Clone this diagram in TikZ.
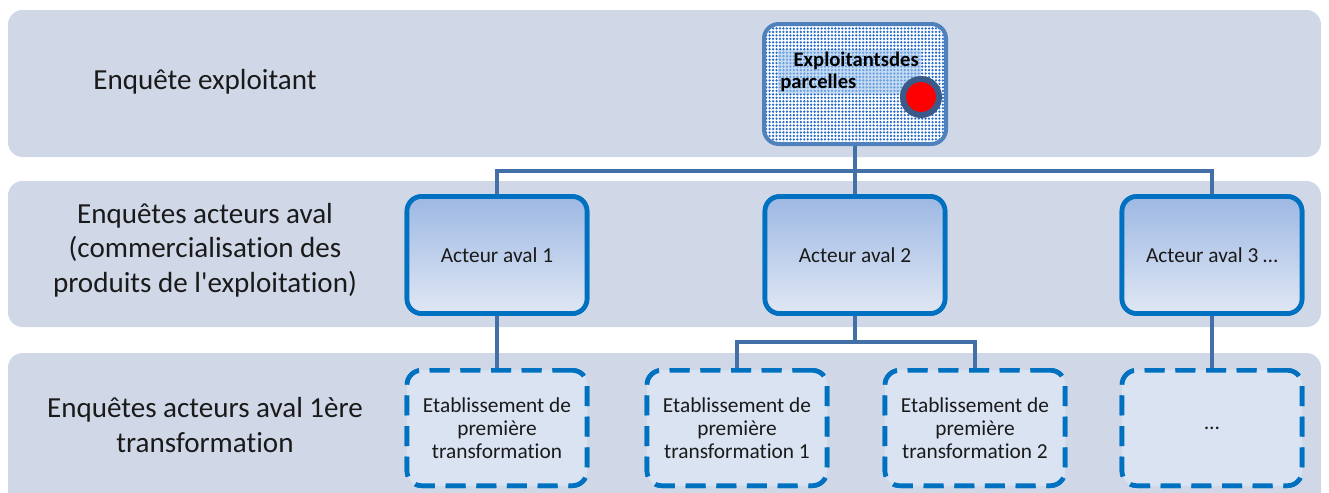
\documentclass[tikz,border=0pt]{standalone}
\usepackage{fontspec}
\setmainfont{Carlito}[Ligatures={TeX,NoCommon}]
\usetikzlibrary{patterns.meta}
\definecolor{band}{HTML}{D0D8E8}
\definecolor{boxline}{HTML}{0070C0}
\definecolor{conn}{HTML}{4470A8}
\definecolor{gradtop}{HTML}{9DB8E3}
\definecolor{gradbot}{HTML}{E0E7F4}
\definecolor{dashfill}{HTML}{DAE3F1}
\definecolor{topline}{HTML}{4F81BD}
\definecolor{dotcol}{HTML}{2468C8}
\definecolor{ringcol}{HTML}{3B5A8A}
\definecolor{glow}{HTML}{9DC3EC}
\definecolor{txt}{HTML}{1A1A1A}
\tikzset{
  bandbox/.style={fill=band, rounded corners=11pt},
  rowlabel/.style={align=center, text=txt, font=\fontsize{21.8}{26}\selectfont},
  actbox/.style={draw=boxline, line width=3.5pt, rounded corners=11pt,
    top color=gradtop, bottom color=gradbot, minimum width=135pt, minimum height=87.75pt,
    align=center, text=txt, font=\fontsize{16}{19}\selectfont},
  dashbox/.style={draw=boxline, line width=3.5pt, rounded corners=11pt, fill=dashfill,
    dash pattern=on 15pt off 8pt, minimum width=135pt, minimum height=86.5pt,
    align=center, text=txt, font=\fontsize{16}{17.5}\selectfont},
  conline/.style={draw=conn, line width=2.8pt},
}
\begin{document}
\begin{tikzpicture}[x=0.75pt,y=-0.75pt]
\useasboundingbox (0,0) rectangle (1329,493);
\begin{scope}
\clip (0,0) rectangle (1329,493);
\fill[bandbox] (8,10) rectangle (1321,157);
\fill[bandbox] (8,181) rectangle (1321,327);
\fill[bandbox] (8,353) rectangle (1321,520);
\end{scope}

\node[rowlabel] (l1) at (205,82) {Enquête exploitant};
\node[rowlabel] (l2) at (205,250) {Enquêtes acteurs aval\\(commercialisation des\\produits de l\textquotesingle exploitation)};
\node[rowlabel] (l3) at (205,425) {Enquêtes acteurs aval 1ère\\transformation};

\coordinate (ptop) at (855,84);
\coordinate (bus1) at (855,171);
\coordinate (bus2) at (855,342);

\node[actbox] (a1) at (497,255) {Acteur aval 1};
\node[actbox] (a2) at (855,255) {Acteur aval 2};
\node[actbox] (a3) at (1212,255) {Acteur aval 3 …};

\node[dashbox] (d1) at (497,428) {Etablissement de\\première\\transformation};
\node[dashbox] (d2) at (737,428) {Etablissement de\\première\\transformation 1};
\node[dashbox] (d3) at (975,428) {Etablissement de\\première\\transformation 2};
\node[dashbox] (d4) at (1212,428) {…};

\node[minimum width=136.5pt, minimum height=90pt] (top) at (ptop) {};

% connectors
\draw[conline] (top.south) -- (a2.north);
\draw[conline] (a1.north) |- (bus1) -| (a3.north);
\draw[conline] (a1.south) -- (d1.north);
\draw[conline] (a2.south) -- (bus2);
\draw[conline] (d2.north) |- (bus2) -| (d3.north);
\draw[conline] (a3.south) -- (d4.north);

% boxes over connectors
\node[draw=topline, line width=3pt, rounded corners=11pt, minimum width=136.5pt, minimum height=90pt,
  preaction={fill=white}, pattern={Dots[distance=2.6pt, radius=0.95pt]}, pattern color=dotcol] at (top) {};
\node[actbox] at (a1) {Acteur aval 1};
\node[actbox] at (a2) {Acteur aval 2};
\node[actbox] at (a3) {Acteur aval 3 …};
\node[dashbox] at (d1) {Etablissement de\\première\\transformation};
\node[dashbox] at (d2) {Etablissement de\\première\\transformation 1};
\node[dashbox] at (d3) {Etablissement de\\première\\transformation 2};
\node[dashbox] at (d4) {…};

\node[anchor=west, align=left, inner sep=1.5pt, fill=glow, fill opacity=0.6, text opacity=1,
  font=\bfseries\fontsize{15.5}{16}\selectfont] (toptext) at (778,72)
  {\hspace*{10pt}Exploitantsdes\\parcelles};
\node[circle, draw=ringcol, line width=4.5pt, fill=red, minimum size=27pt, inner sep=0pt] (dot) at (921,97) {};
\end{tikzpicture}
\end{document}
